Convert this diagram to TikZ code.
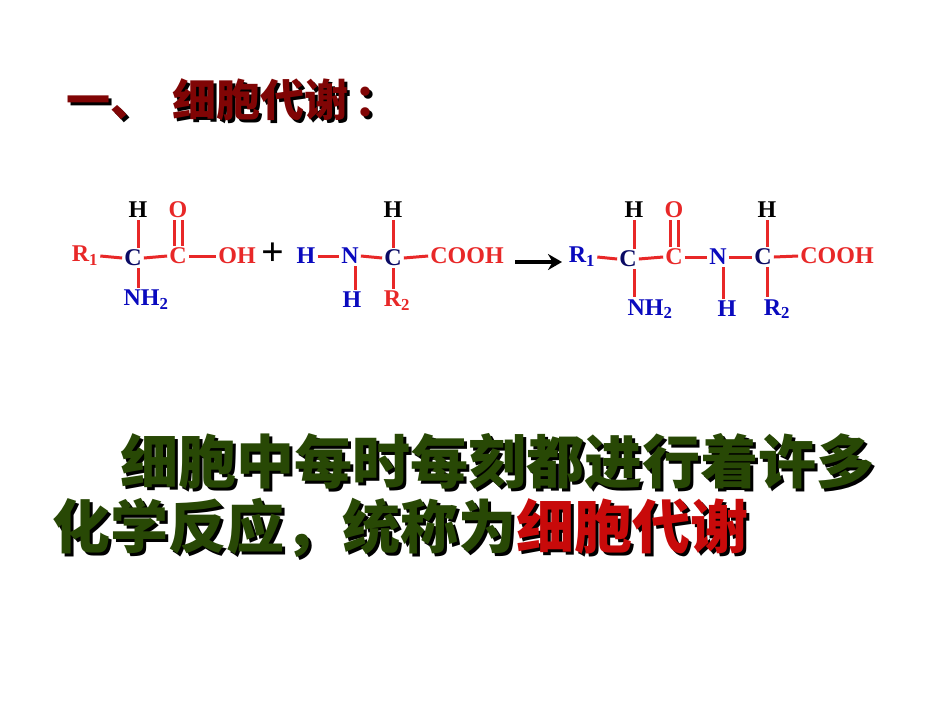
\documentclass[tikz,border=0pt]{standalone}
\usepackage{fontspec}
\setmainfont{Liberation Serif}
\newfontfamily\cjk{Noto Sans CJK SC}
\usetikzlibrary{arrows.meta}
\definecolor{cred}{RGB}{232,40,40}
\definecolor{cblue}{RGB}{10,10,190}
\definecolor{cnavy}{RGB}{10,10,100}
\definecolor{tred}{RGB}{128,5,5}
\definecolor{tgreen}{RGB}{40,72,5}
\definecolor{hred}{RGB}{200,10,10}
\begin{document}
\begin{tikzpicture}[x=1pt,y=-1pt,
  atom/.style={font=\bfseries\fontsize{24}{24}\selectfont, inner sep=2pt},
  bond/.style={draw=cred, line width=3pt},
  title/.style={font=\cjk\bfseries\fontsize{44}{44}\selectfont, anchor=west, inner sep=0pt},
  body/.style={font=\cjk\bfseries\fontsize{58}{58}\selectfont, anchor=west, inner sep=0pt}]
\useasboundingbox (0,0) rectangle (950,713);
\fill[white] (0,0) rectangle (950,713);
% title
\node[title, black] (tts) at (69,103) {一、\hspace{18pt}细胞代谢\hspace{6pt}：};
\node[title, tred] (tt) at (66,100) {一、\hspace{18pt}细胞代谢\hspace{6pt}：};
% body
\node[body, black] (b1s) at (123,464) {细胞中每时每刻都进行着许多};
\node[body, tgreen] (b1) at (120,461) {细胞中每时每刻都进行着许多};
\node[body, black] (b2s) at (55,531) {化学反应，统称为细胞代谢};
\node[body, tgreen] (b2) at (52,528) {化学反应，统称为\textcolor{hred}{细胞代谢}};
% reactant 1
\node[atom, cred] (r1) at (85,256) {R\textsubscript{1}};
\node[atom, cnavy] (c1) at (133,258) {C};
\node[atom, cred] (c2) at (178,256) {C};
\node[atom, cred] (oh) at (237,256) {OH};
\node[atom] (h1) at (138,210) {H};
\node[atom, cred] (o1) at (178,210) {O};
\node[atom, cblue] (nh) at (146,300) {NH\textsubscript{2}};
\draw[bond] (r1.east) -- (c1.west);
\draw[bond] (c1.east) -- (c2.west);
\draw[bond] (c2.east) -- (oh.west);
\draw[bond] (h1.south) -- (h1.south |- c1.north);
\draw[bond] (h1.south |- c1.south) -- (h1.south |- nh.north);
\draw[bond] ([xshift=-4]o1.south) -- ([xshift=-4]o1.south |- c2.north);
\draw[bond] ([xshift=4]o1.south) -- ([xshift=4]o1.south |- c2.north);
\node[font=\bfseries\fontsize{40}{40}\selectfont, inner sep=0pt] (plus) at (273,254) {+};
% reactant 2
\node[atom, cblue] (h2) at (306,256) {H};
\node[atom, cblue] (n2) at (350,256) {N};
\node[atom, cnavy] (c3) at (393,258) {C};
\node[atom, cred] (co1) at (467,256) {COOH};
\node[atom] (h3) at (393,210) {H};
\node[atom, cblue] (h4) at (352,300) {H};
\node[atom, cred] (r2) at (397,301) {R\textsubscript{2}};
\draw[bond] (h2.east) -- (n2.west);
\draw[bond] (n2.east) -- (c3.west);
\draw[bond] (c3.east) -- (co1.west);
\draw[bond] (h3.south) -- (h3.south |- c3.north);
\draw[bond] ([xshift=5]n2.south) -- ([xshift=5]n2.south |- h4.north);
\draw[bond] (c3.south) -- (c3.south |- r2.north);
% arrow
\coordinate (a0) at (515,262);
\coordinate (a1) at (562,262);
\draw[line width=3.5pt, -{Stealth[length=14pt,width=16pt]}] (a0) -- (a1);
% product
\node[atom, cblue] (p1) at (582,257) {R\textsubscript{1}};
\node[atom, cnavy] (pc1) at (628,259) {C};
\node[atom, cred] (pc2) at (674,257) {C};
\node[atom, cblue] (pn) at (718,257) {N};
\node[atom, cnavy] (pc3) at (763,257) {C};
\node[atom, cred] (pco) at (837,256) {COOH};
\node[atom] (ph1) at (634,210) {H};
\node[atom, cred] (po) at (674,210) {O};
\node[atom] (ph2) at (767,210) {H};
\node[atom, cblue] (pnh) at (650,309) {NH\textsubscript{2}};
\node[atom, cblue] (ph3) at (727,309) {H};
\node[atom, cblue] (pr2) at (777,309) {R\textsubscript{2}};
\draw[bond] (p1.east) -- (pc1.west);
\draw[bond] (pc1.east) -- (pc2.west);
\draw[bond] (pc2.east) -- (pn.west);
\draw[bond] (pn.east) -- (pc3.west);
\draw[bond] (pc3.east) -- (pco.west);
\draw[bond] (ph1.south) -- (ph1.south |- pc1.north);
\draw[bond] (ph1.south |- pc1.south) -- (ph1.south |- pnh.north);
\draw[bond] ([xshift=-4]po.south) -- ([xshift=-4]po.south |- pc2.north);
\draw[bond] ([xshift=4]po.south) -- ([xshift=4]po.south |- pc2.north);
\draw[bond] (ph2.south) -- (ph2.south |- pc3.north);
\draw[bond] (ph2.south |- pc3.south) -- (ph2.south |- pr2.north);
\draw[bond] ([xshift=-4]ph3.north |- pn.south) -- ([xshift=-4]ph3.north);
\end{tikzpicture}
\end{document}
